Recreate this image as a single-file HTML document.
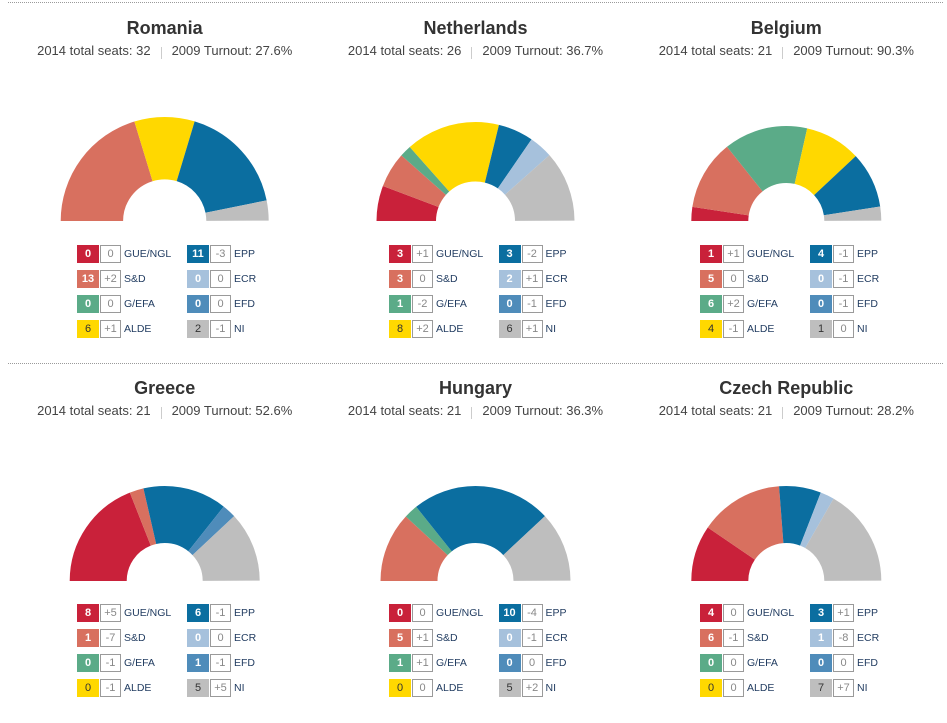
<!DOCTYPE html>
<html>
<head>
<meta charset="utf-8">
<style>
html,body{margin:0;padding:0;background:#fff;}
body{width:947px;height:723px;position:relative;overflow:hidden;font-family:"Liberation Sans",Arial,sans-serif;}
.hr{position:absolute;left:8px;width:935px;height:0;border-top:1px dotted #9a9a9a;}
.t{position:absolute;width:310px;text-align:center;font-weight:bold;font-size:18px;line-height:20px;color:#333;}
.s{position:absolute;width:310px;text-align:center;font-size:13px;line-height:16px;color:#444;white-space:nowrap;}
.s i{display:inline-block;width:1px;height:12px;background:#ccc;margin:0 10px;vertical-align:-4px;}
.i{position:absolute;height:18px;display:flex;align-items:stretch;white-space:nowrap;}
.n{width:22px;height:18px;line-height:18px;text-align:center;color:#fff;font-weight:bold;font-size:11px;}
.d{width:19px;height:16px;border:1px solid #9a9a9a;line-height:16px;text-align:center;color:#888;font-size:11px;margin-left:1px;}
.l{line-height:18px;font-size:10.5px;color:#1f3a5f;margin-left:3px;}
.gue{background:#c9213a}.sd{background:#d8705f}.gef{background:#5bab88}.ald{background:#ffd800;color:#333;font-weight:normal}
.epp{background:#0b6ea0}.ecr{background:#a6c1dc}.efd{background:#4f8cba}.ni{background:#bebebe;color:#333;font-weight:normal}
svg{position:absolute;left:0;top:0;}
</style>
</head>
<body>
<div class="hr" style="top:2px"></div>
<div class="hr" style="top:363px"></div>

<svg width="947" height="723" viewBox="0 0 947 723" fill="none">
  <!-- Romania: cx 164.7 cy 221 R104 r41.6 -->
  <g stroke-width="62.4">
    <path d="M91.9 221 A72.8 72.8 0 0 1 237.5 221" pathLength="32" stroke="#d8705f" stroke-dasharray="13 64" stroke-dashoffset="0"/>
    <path d="M91.9 221 A72.8 72.8 0 0 1 237.5 221" pathLength="32" stroke="#ffd800" stroke-dasharray="6 64" stroke-dashoffset="-13"/>
    <path d="M91.9 221 A72.8 72.8 0 0 1 237.5 221" pathLength="32" stroke="#0b6ea0" stroke-dasharray="11 64" stroke-dashoffset="-19"/>
    <path d="M91.9 221 A72.8 72.8 0 0 1 237.5 221" pathLength="32" stroke="#bebebe" stroke-dasharray="2 64" stroke-dashoffset="-30"/>
  </g>
  <!-- Netherlands: cx 475.5 R99 r39.5 -->
  <g stroke-width="59.5">
    <path d="M406.25 221 A69.25 69.25 0 0 1 544.75 221" pathLength="26" stroke="#c9213a" stroke-dasharray="3 60" stroke-dashoffset="0"/>
    <path d="M406.25 221 A69.25 69.25 0 0 1 544.75 221" pathLength="26" stroke="#d8705f" stroke-dasharray="3 60" stroke-dashoffset="-3"/>
    <path d="M406.25 221 A69.25 69.25 0 0 1 544.75 221" pathLength="26" stroke="#5bab88" stroke-dasharray="1 60" stroke-dashoffset="-6"/>
    <path d="M406.25 221 A69.25 69.25 0 0 1 544.75 221" pathLength="26" stroke="#ffd800" stroke-dasharray="8 60" stroke-dashoffset="-7"/>
    <path d="M406.25 221 A69.25 69.25 0 0 1 544.75 221" pathLength="26" stroke="#0b6ea0" stroke-dasharray="3 60" stroke-dashoffset="-15"/>
    <path d="M406.25 221 A69.25 69.25 0 0 1 544.75 221" pathLength="26" stroke="#a6c1dc" stroke-dasharray="2 60" stroke-dashoffset="-18"/>
    <path d="M406.25 221 A69.25 69.25 0 0 1 544.75 221" pathLength="26" stroke="#bebebe" stroke-dasharray="6 60" stroke-dashoffset="-20"/>
  </g>
  <!-- Belgium: cx 786.3 R95 r38 -->
  <g stroke-width="57">
    <path d="M719.8 221 A66.5 66.5 0 0 1 852.8 221" pathLength="21" stroke="#c9213a" stroke-dasharray="1 50" stroke-dashoffset="0"/>
    <path d="M719.8 221 A66.5 66.5 0 0 1 852.8 221" pathLength="21" stroke="#d8705f" stroke-dasharray="5 50" stroke-dashoffset="-1"/>
    <path d="M719.8 221 A66.5 66.5 0 0 1 852.8 221" pathLength="21" stroke="#5bab88" stroke-dasharray="6 50" stroke-dashoffset="-6"/>
    <path d="M719.8 221 A66.5 66.5 0 0 1 852.8 221" pathLength="21" stroke="#ffd800" stroke-dasharray="4 50" stroke-dashoffset="-12"/>
    <path d="M719.8 221 A66.5 66.5 0 0 1 852.8 221" pathLength="21" stroke="#0b6ea0" stroke-dasharray="4 50" stroke-dashoffset="-16"/>
    <path d="M719.8 221 A66.5 66.5 0 0 1 852.8 221" pathLength="21" stroke="#bebebe" stroke-dasharray="1 50" stroke-dashoffset="-20"/>
  </g>
  <!-- Greece: cx 164.7 cy 581 -->
  <g stroke-width="57">
    <path d="M98.2 581 A66.5 66.5 0 0 1 231.2 581" pathLength="21" stroke="#c9213a" stroke-dasharray="8 50" stroke-dashoffset="0"/>
    <path d="M98.2 581 A66.5 66.5 0 0 1 231.2 581" pathLength="21" stroke="#d8705f" stroke-dasharray="1 50" stroke-dashoffset="-8"/>
    <path d="M98.2 581 A66.5 66.5 0 0 1 231.2 581" pathLength="21" stroke="#0b6ea0" stroke-dasharray="6 50" stroke-dashoffset="-9"/>
    <path d="M98.2 581 A66.5 66.5 0 0 1 231.2 581" pathLength="21" stroke="#4f8cba" stroke-dasharray="1 50" stroke-dashoffset="-15"/>
    <path d="M98.2 581 A66.5 66.5 0 0 1 231.2 581" pathLength="21" stroke="#bebebe" stroke-dasharray="5 50" stroke-dashoffset="-16"/>
  </g>
  <!-- Hungary: cx 475.5 -->
  <g stroke-width="57">
    <path d="M409 581 A66.5 66.5 0 0 1 542 581" pathLength="21" stroke="#d8705f" stroke-dasharray="5 50" stroke-dashoffset="0"/>
    <path d="M409 581 A66.5 66.5 0 0 1 542 581" pathLength="21" stroke="#5bab88" stroke-dasharray="1 50" stroke-dashoffset="-5"/>
    <path d="M409 581 A66.5 66.5 0 0 1 542 581" pathLength="21" stroke="#0b6ea0" stroke-dasharray="10 50" stroke-dashoffset="-6"/>
    <path d="M409 581 A66.5 66.5 0 0 1 542 581" pathLength="21" stroke="#bebebe" stroke-dasharray="5 50" stroke-dashoffset="-16"/>
  </g>
  <!-- Czech: cx 786.3 -->
  <g stroke-width="57">
    <path d="M719.8 581 A66.5 66.5 0 0 1 852.8 581" pathLength="21" stroke="#c9213a" stroke-dasharray="4 50" stroke-dashoffset="0"/>
    <path d="M719.8 581 A66.5 66.5 0 0 1 852.8 581" pathLength="21" stroke="#d8705f" stroke-dasharray="6 50" stroke-dashoffset="-4"/>
    <path d="M719.8 581 A66.5 66.5 0 0 1 852.8 581" pathLength="21" stroke="#0b6ea0" stroke-dasharray="3 50" stroke-dashoffset="-10"/>
    <path d="M719.8 581 A66.5 66.5 0 0 1 852.8 581" pathLength="21" stroke="#a6c1dc" stroke-dasharray="1 50" stroke-dashoffset="-13"/>
    <path d="M719.8 581 A66.5 66.5 0 0 1 852.8 581" pathLength="21" stroke="#bebebe" stroke-dasharray="7 50" stroke-dashoffset="-14"/>
  </g>
</svg>

<!-- Titles -->
<div class="t" style="left:9.7px;top:18px">Romania</div>
<div class="s" style="left:9.7px;top:42.5px">2014 total seats: 32<i></i>2009 Turnout: 27.6%</div>
<div class="t" style="left:320.5px;top:18px">Netherlands</div>
<div class="s" style="left:320.5px;top:42.5px">2014 total seats: 26<i></i>2009 Turnout: 36.7%</div>
<div class="t" style="left:631.3px;top:18px">Belgium</div>
<div class="s" style="left:631.3px;top:42.5px">2014 total seats: 21<i></i>2009 Turnout: 90.3%</div>

<div class="t" style="left:9.7px;top:378px">Greece</div>
<div class="s" style="left:9.7px;top:402.5px">2014 total seats: 21<i></i>2009 Turnout: 52.6%</div>
<div class="t" style="left:320.5px;top:378px">Hungary</div>
<div class="s" style="left:320.5px;top:402.5px">2014 total seats: 21<i></i>2009 Turnout: 36.3%</div>
<div class="t" style="left:631.3px;top:378px">Czech Republic</div>
<div class="s" style="left:631.3px;top:402.5px">2014 total seats: 21<i></i>2009 Turnout: 28.2%</div>

<!-- Romania legend -->
<div class="i" style="left:77px;top:245px"><span class="n gue">0</span><span class="d">0</span><span class="l">GUE/NGL</span></div>
<div class="i" style="left:77px;top:270px"><span class="n sd">13</span><span class="d">+2</span><span class="l">S&amp;D</span></div>
<div class="i" style="left:77px;top:295px"><span class="n gef">0</span><span class="d">0</span><span class="l">G/EFA</span></div>
<div class="i" style="left:77px;top:320px"><span class="n ald">6</span><span class="d">+1</span><span class="l">ALDE</span></div>
<div class="i" style="left:187px;top:245px"><span class="n epp">11</span><span class="d">-3</span><span class="l">EPP</span></div>
<div class="i" style="left:187px;top:270px"><span class="n ecr">0</span><span class="d">0</span><span class="l">ECR</span></div>
<div class="i" style="left:187px;top:295px"><span class="n efd">0</span><span class="d">0</span><span class="l">EFD</span></div>
<div class="i" style="left:187px;top:320px"><span class="n ni">2</span><span class="d">-1</span><span class="l">NI</span></div>

<!-- Netherlands legend -->
<div class="i" style="left:389px;top:245px"><span class="n gue">3</span><span class="d">+1</span><span class="l">GUE/NGL</span></div>
<div class="i" style="left:389px;top:270px"><span class="n sd">3</span><span class="d">0</span><span class="l">S&amp;D</span></div>
<div class="i" style="left:389px;top:295px"><span class="n gef">1</span><span class="d">-2</span><span class="l">G/EFA</span></div>
<div class="i" style="left:389px;top:320px"><span class="n ald">8</span><span class="d">+2</span><span class="l">ALDE</span></div>
<div class="i" style="left:498.5px;top:245px"><span class="n epp">3</span><span class="d">-2</span><span class="l">EPP</span></div>
<div class="i" style="left:498.5px;top:270px"><span class="n ecr">2</span><span class="d">+1</span><span class="l">ECR</span></div>
<div class="i" style="left:498.5px;top:295px"><span class="n efd">0</span><span class="d">-1</span><span class="l">EFD</span></div>
<div class="i" style="left:498.5px;top:320px"><span class="n ni">6</span><span class="d">+1</span><span class="l">NI</span></div>

<!-- Belgium legend -->
<div class="i" style="left:700px;top:245px"><span class="n gue">1</span><span class="d">+1</span><span class="l">GUE/NGL</span></div>
<div class="i" style="left:700px;top:270px"><span class="n sd">5</span><span class="d">0</span><span class="l">S&amp;D</span></div>
<div class="i" style="left:700px;top:295px"><span class="n gef">6</span><span class="d">+2</span><span class="l">G/EFA</span></div>
<div class="i" style="left:700px;top:320px"><span class="n ald">4</span><span class="d">-1</span><span class="l">ALDE</span></div>
<div class="i" style="left:810px;top:245px"><span class="n epp">4</span><span class="d">-1</span><span class="l">EPP</span></div>
<div class="i" style="left:810px;top:270px"><span class="n ecr">0</span><span class="d">-1</span><span class="l">ECR</span></div>
<div class="i" style="left:810px;top:295px"><span class="n efd">0</span><span class="d">-1</span><span class="l">EFD</span></div>
<div class="i" style="left:810px;top:320px"><span class="n ni">1</span><span class="d">0</span><span class="l">NI</span></div>

<!-- Greece legend -->
<div class="i" style="left:77px;top:603.5px"><span class="n gue">8</span><span class="d">+5</span><span class="l">GUE/NGL</span></div>
<div class="i" style="left:77px;top:628.5px"><span class="n sd">1</span><span class="d">-7</span><span class="l">S&amp;D</span></div>
<div class="i" style="left:77px;top:653.5px"><span class="n gef">0</span><span class="d">-1</span><span class="l">G/EFA</span></div>
<div class="i" style="left:77px;top:678.5px"><span class="n ald">0</span><span class="d">-1</span><span class="l">ALDE</span></div>
<div class="i" style="left:187px;top:603.5px"><span class="n epp">6</span><span class="d">-1</span><span class="l">EPP</span></div>
<div class="i" style="left:187px;top:628.5px"><span class="n ecr">0</span><span class="d">0</span><span class="l">ECR</span></div>
<div class="i" style="left:187px;top:653.5px"><span class="n efd">1</span><span class="d">-1</span><span class="l">EFD</span></div>
<div class="i" style="left:187px;top:678.5px"><span class="n ni">5</span><span class="d">+5</span><span class="l">NI</span></div>

<!-- Hungary legend -->
<div class="i" style="left:389px;top:603.5px"><span class="n gue">0</span><span class="d">0</span><span class="l">GUE/NGL</span></div>
<div class="i" style="left:389px;top:628.5px"><span class="n sd">5</span><span class="d">+1</span><span class="l">S&amp;D</span></div>
<div class="i" style="left:389px;top:653.5px"><span class="n gef">1</span><span class="d">+1</span><span class="l">G/EFA</span></div>
<div class="i" style="left:389px;top:678.5px"><span class="n ald">0</span><span class="d">0</span><span class="l">ALDE</span></div>
<div class="i" style="left:498.5px;top:603.5px"><span class="n epp">10</span><span class="d">-4</span><span class="l">EPP</span></div>
<div class="i" style="left:498.5px;top:628.5px"><span class="n ecr">0</span><span class="d">-1</span><span class="l">ECR</span></div>
<div class="i" style="left:498.5px;top:653.5px"><span class="n efd">0</span><span class="d">0</span><span class="l">EFD</span></div>
<div class="i" style="left:498.5px;top:678.5px"><span class="n ni">5</span><span class="d">+2</span><span class="l">NI</span></div>

<!-- Czech legend -->
<div class="i" style="left:700px;top:603.5px"><span class="n gue">4</span><span class="d">0</span><span class="l">GUE/NGL</span></div>
<div class="i" style="left:700px;top:628.5px"><span class="n sd">6</span><span class="d">-1</span><span class="l">S&amp;D</span></div>
<div class="i" style="left:700px;top:653.5px"><span class="n gef">0</span><span class="d">0</span><span class="l">G/EFA</span></div>
<div class="i" style="left:700px;top:678.5px"><span class="n ald">0</span><span class="d">0</span><span class="l">ALDE</span></div>
<div class="i" style="left:810px;top:603.5px"><span class="n epp">3</span><span class="d">+1</span><span class="l">EPP</span></div>
<div class="i" style="left:810px;top:628.5px"><span class="n ecr">1</span><span class="d">-8</span><span class="l">ECR</span></div>
<div class="i" style="left:810px;top:653.5px"><span class="n efd">0</span><span class="d">0</span><span class="l">EFD</span></div>
<div class="i" style="left:810px;top:678.5px"><span class="n ni">7</span><span class="d">+7</span><span class="l">NI</span></div>
</body>
</html>
